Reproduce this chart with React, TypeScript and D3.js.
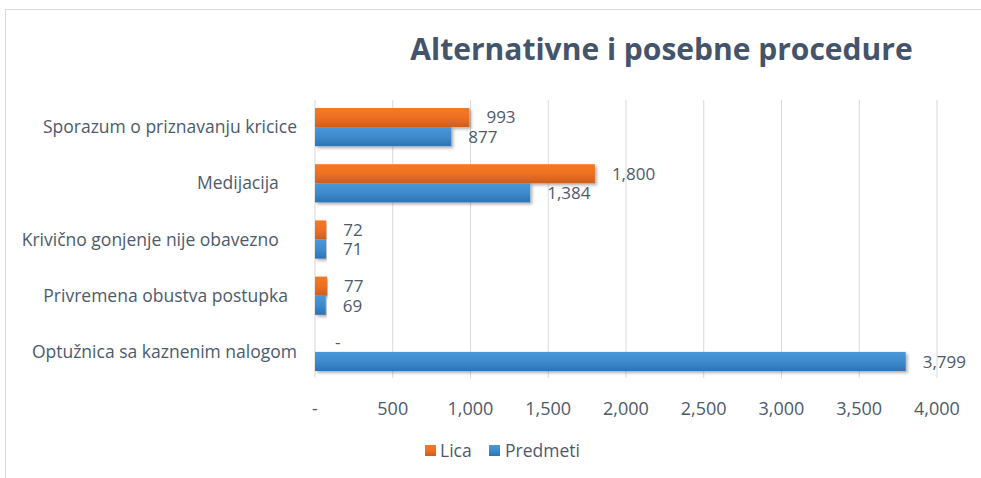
import React from "react";
import * as d3 from "d3";

const categories = [
  "Sporazum o priznavanju kricice",
  "Medijacija    ",
  "Krivično gonjenje nije obavezno    ",
  "Privremena obustva postupka  ",
  "Optužnica sa kaznenim nalogom",
];
const lica = [993, 1800, 72, 77, 0];
const predmeti = [877, 1384, 71, 69, 3799];
const xTicks = [0, 500, 1000, 1500, 2000, 2500, 3000, 3500, 4000];
const title = "Alternativne i posebne procedure";
const seriesNames = ["Lica", "Predmeti"];

const fmt = (v: number) => (v === 0 ? "-" : d3.format(",")(v));

export default function App() {
  const W = 981, H = 478;
  const x = d3.scaleLinear().domain([0, 4000]).range([315, 937]);
  const y = d3.scaleBand().domain(categories).range([99, 380]).paddingInner(0.32).paddingOuter(0.16);
  const bh = y.bandwidth() / 2;
  const font = "'Open Sans', sans-serif";
  const txt = "#4D5A6C";
  const numFs = 18;
  const valFs = 17;
  return (
    <svg width={W} height={H} style={{ position: "absolute", left: 0, top: 0 }} fontFamily={font}>
      <defs>
        <linearGradient id="gO" x1="0" y1="0" x2="0" y2="1">
          <stop offset="0" stopColor="#F57A24" />
          <stop offset="0.5" stopColor="#EE6F22" />
          <stop offset="1" stopColor="#CD5E1E" />
        </linearGradient>
        <linearGradient id="gB" x1="0" y1="0" x2="0" y2="1">
          <stop offset="0" stopColor="#4A97D8" />
          <stop offset="0.5" stopColor="#3E8BCE" />
          <stop offset="1" stopColor="#2E72B2" />
        </linearGradient>
        <filter id="sh" x="-5%" y="-30%" width="110%" height="180%">
          <feDropShadow dx="2" dy="2" stdDeviation="1.5" floodColor="#000" floodOpacity="0.3" />
        </filter>
      </defs>
      <rect x={0} y={0} width={W} height={H} fill="#fff" />
      <path d={`M5.5,${H} V9.5 H${W}`} fill="none" stroke="#D9D9D9" strokeWidth={1} />
      <text x={661.5} y={60} textAnchor="middle" fontSize={30} fontWeight={700} fill="#44546A">{title}</text>
      {xTicks.map((t) => (
        <g key={t}>
          <line x1={x(t)} x2={x(t)} y1={100} y2={378} stroke="#D9D9D9" strokeWidth={1} />
          <text x={x(t)} y={415} textAnchor="middle" fontSize={numFs} fill={txt}>{fmt(t)}</text>
        </g>
      ))}
      {categories.map((c, i) => {
        const y0 = y(c)!;
        return (
          <g key={c}>
            <text x={297} y={y0 + bh + 6} textAnchor="end" fontSize={17.5} fill={txt} style={{ whiteSpace: "pre" }}>{c}</text>
            <rect x={x(0)} y={y0} width={x(lica[i]) - x(0)} height={bh} fill="url(#gO)" filter="url(#sh)" />
            <rect x={x(0)} y={y0 + bh} width={x(predmeti[i]) - x(0)} height={bh} fill="url(#gB)" filter="url(#sh)" />
            <text x={x(lica[i]) + (lica[i] === 0 ? 20 : 17)} y={y0 + bh / 2} dy="0.35em" fontSize={valFs} fill={txt}>{fmt(lica[i])}</text>
            <text x={x(predmeti[i]) + 17} y={y0 + bh * 1.5} dy="0.37em" fontSize={valFs} fill={txt}>{fmt(predmeti[i])}</text>
          </g>
        );
      })}
      <g>
        <rect x={425} y={445} width={11} height={11} fill="url(#gO)" />
        <text x={440} y={457} fontSize={17.5} fill={txt}>{seriesNames[0]}</text>
        <rect x={489} y={445} width={11} height={11} fill="url(#gB)" />
        <text x={505} y={457} fontSize={17.5} fill={txt}>{seriesNames[1]}</text>
      </g>
    </svg>
  );
}
